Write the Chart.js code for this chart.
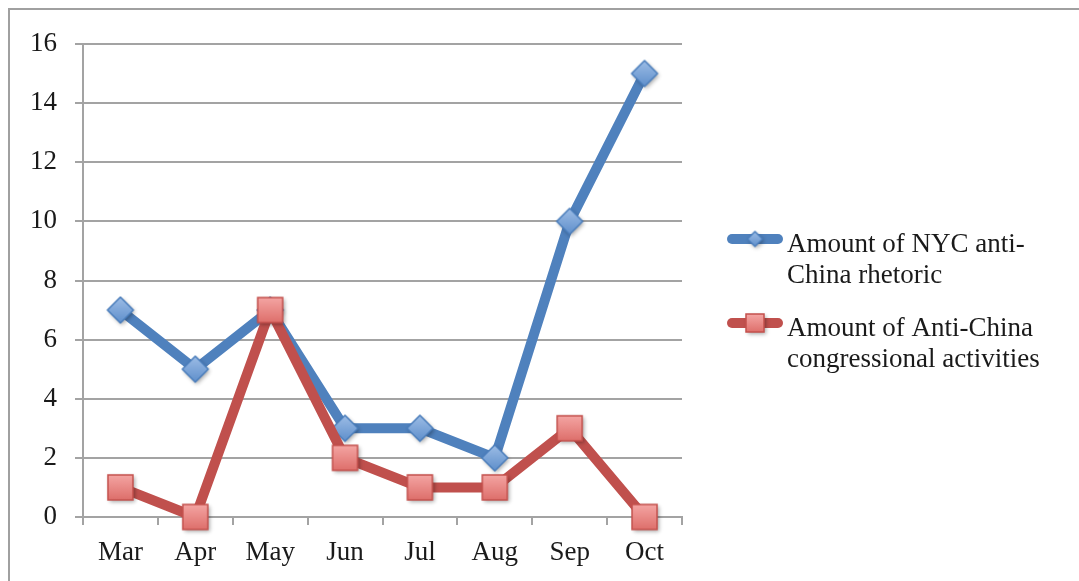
<!DOCTYPE html>
<html>
<head>
<meta charset="utf-8">
<script src="https://cdn.jsdelivr.net/npm/chart.js@4/dist/chart.umd.min.js"></script>
<style>
  html, body { margin: 0; padding: 0; background: #ffffff; overflow: hidden; }
  #wrap { position: relative; width: 1079px; height: 581px; }
  canvas { display: block; }
</style>
</head>
<body>
<div id="wrap"><canvas id="chart" width="1079" height="581" style="width:1079px;height:581px"></canvas></div>
<script>
// Monthly counts
const months = ['Mar', 'Apr', 'May', 'Jun', 'Jul', 'Aug', 'Sep', 'Oct'];
const nycRhetoric = [7, 5, 7, 3, 3, 2, 10, 15];
const congressActivities = [1, 0, 7, 2, 1, 1, 3, 0];
const seriesNames = [
  ['Amount of NYC anti-', 'China rhetoric'],
  ['Amount of Anti-China', 'congressional activities']
];
const yMin = 0, yMax = 16, yStep = 2;

const FONT = "'Liberation Serif', 'Times New Roman', serif";
const FONT_SIZE = 27;
const TEXT = '#1a1a1a';
const GRID = '#a3a3a3';
const BLUE = '#4f81bd';
const RED = '#c0504d';

// Marker glyphs with soft gradient fill and drop shadow
function makeDiamond(half) {
  const s = Math.ceil(half * 2 + 14);
  const c = document.createElement('canvas');
  c.width = s; c.height = s;
  const g = c.getContext('2d');
  const cx = s / 2, cy = s / 2;
  g.shadowColor = 'rgba(0,0,0,0.35)';
  g.shadowBlur = 4; g.shadowOffsetX = 1.5; g.shadowOffsetY = 2;
  const grad = g.createLinearGradient(0, cy - half, 0, cy + half);
  grad.addColorStop(0, '#9dbde6');
  grad.addColorStop(1, '#5f8fcb');
  g.beginPath();
  g.moveTo(cx, cy - half); g.lineTo(cx + half, cy);
  g.lineTo(cx, cy + half); g.lineTo(cx - half, cy); g.closePath();
  g.lineJoin = 'round';
  g.fillStyle = grad; g.fill();
  g.shadowColor = 'transparent';
  g.lineWidth = 1.5; g.strokeStyle = '#4a7dbb'; g.stroke();
  return c;
}
function makeSquare(half) {
  const s = Math.ceil(half * 2 + 14);
  const c = document.createElement('canvas');
  c.width = s; c.height = s;
  const g = c.getContext('2d');
  const cx = s / 2, cy = s / 2;
  g.shadowColor = 'rgba(0,0,0,0.35)';
  g.shadowBlur = 4; g.shadowOffsetX = 1.5; g.shadowOffsetY = 2;
  const grad = g.createLinearGradient(0, cy - half, 0, cy + half);
  grad.addColorStop(0, '#f4a5a3');
  grad.addColorStop(1, '#de6f6b');
  g.fillStyle = grad;
  g.fillRect(cx - half, cy - half, half * 2, half * 2);
  g.shadowColor = 'transparent';
  g.lineWidth = 1.5; g.strokeStyle = '#c4504c';
  g.strokeRect(cx - half, cy - half, half * 2, half * 2);
  return c;
}
const diamondMark = makeDiamond(13);
const squareMark = makeSquare(12.5);
const diamondSmall = makeDiamond(7.5);
const squareSmall = makeSquare(9);

// Outer chart frame
const framePlugin = {
  id: 'frame',
  beforeDraw(chart) {
    const ctx = chart.ctx;
    ctx.save();
    ctx.strokeStyle = '#a0a0a0';
    ctx.lineWidth = 2;
    ctx.strokeRect(9, 9, 1300, 1000);
    ctx.restore();
  }
};

// Legend to the right of the plot, with wrapped labels
const sideLegend = {
  id: 'sideLegend',
  afterDraw(chart) {
    const ctx = chart.ctx;
    const marks = [diamondSmall, squareSmall];
    const rows = [239, 323];
    ctx.save();
    chart.data.datasets.forEach((ds, i) => {
      const y = rows[i];
      ctx.beginPath();
      ctx.moveTo(732, y); ctx.lineTo(778, y);
      ctx.lineWidth = 10; ctx.lineCap = 'round';
      ctx.strokeStyle = ds.borderColor; ctx.stroke();
      const m = marks[i];
      ctx.drawImage(m, 755 - m.width / 2, y - m.height / 2);
      ctx.fillStyle = TEXT;
      ctx.font = FONT_SIZE + 'px ' + FONT;
      ctx.textAlign = 'left'; ctx.textBaseline = 'alphabetic';
      seriesNames[i].forEach((line, k) => ctx.fillText(line, 787, y + 13 + k * 31));
    });
    ctx.restore();
  }
};

new Chart(document.getElementById('chart'), {
  type: 'line',
  data: {
    labels: months,
    datasets: [
      {
        label: seriesNames[0].join(' '),
        data: nycRhetoric,
        borderColor: BLUE,
        backgroundColor: BLUE,
        borderWidth: 10,
        borderJoinStyle: 'round',
        borderCapStyle: 'round',
        pointStyle: diamondMark,
        pointRadius: 13,
        tension: 0,
        clip: false,
        order: 1
      },
      {
        label: seriesNames[1].join(' '),
        data: congressActivities,
        borderColor: RED,
        backgroundColor: RED,
        borderWidth: 10,
        borderJoinStyle: 'round',
        borderCapStyle: 'round',
        pointStyle: squareMark,
        pointRadius: 13,
        tension: 0,
        clip: false,
        order: 0
      }
    ]
  },
  options: {
    responsive: false,
    animation: false,
    layout: { padding: { left: 0, top: 44, right: 397, bottom: 0 } },
    plugins: {
      legend: { display: false },
      tooltip: { enabled: false }
    },
    scales: {
      x: {
        offset: true,
        grid: { offset: true, drawOnChartArea: false, drawTicks: true, tickLength: 8, color: GRID, lineWidth: 2 },
        border: { display: true, color: GRID, width: 2 },
        ticks: { color: TEXT, font: { family: FONT, size: FONT_SIZE }, padding: 12, maxRotation: 0 },
        afterFit(s) { s.height = 64; }
      },
      y: {
        min: yMin, max: yMax,
        grid: { color: GRID, lineWidth: 2, tickLength: 8, drawTicks: true },
        border: { display: true, color: GRID, width: 2 },
        ticks: { stepSize: yStep, color: TEXT, font: { family: FONT, size: FONT_SIZE }, padding: 18 },
        afterFit(s) { s.width = 83; }
      }
    }
  },
  plugins: [framePlugin, sideLegend]
});
</script>
</body>
</html>
